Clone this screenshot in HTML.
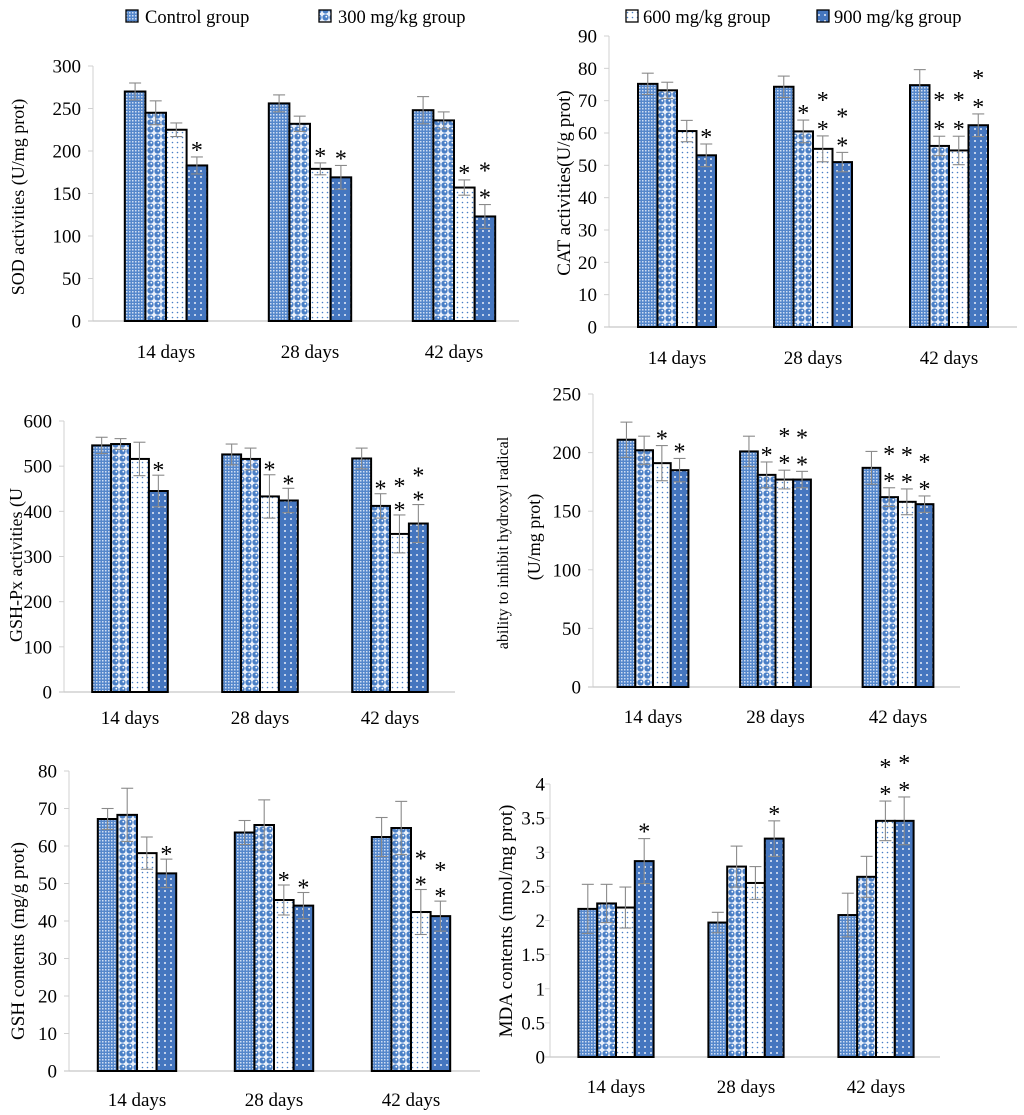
<!DOCTYPE html>
<html><head><meta charset="utf-8"><style>
html,body{margin:0;padding:0;background:#fff;}
svg{display:block;font-family:"Liberation Serif",serif;}
</style></head><body>
<svg id="fig" width="1024" height="1115" viewBox="0 0 1024 1115" xmlns="http://www.w3.org/2000/svg">
<defs>
<pattern id="p0" width="3" height="3" patternUnits="userSpaceOnUse"><rect width="3" height="3" fill="#5587cb"/><rect width="1.5" height="1.5" fill="#d0def3"/></pattern>
<pattern id="p1" width="7" height="7" patternUnits="userSpaceOnUse"><rect width="7" height="7" fill="#eaf0fa"/><circle cx="3.5" cy="3.5" r="3.1" fill="#4a7fc6"/><circle cx="4.3" cy="2.7" r="0.9" fill="#fff"/></pattern>
<pattern id="p2" width="5" height="5" patternUnits="userSpaceOnUse"><rect width="5" height="5" fill="#fff"/><circle cx="2.5" cy="2.5" r="0.8" fill="#4a7fc6"/></pattern>
<pattern id="p3" width="6" height="6" patternUnits="userSpaceOnUse"><rect width="6" height="6" fill="#4576bf"/><circle cx="3" cy="3" r="1" fill="#e8eef8"/></pattern>
</defs>
<g>
  <g><rect x="126" y="10" width="12" height="12" fill="url(#p0)" stroke="#000" stroke-width="1.3"/><text x="145" y="23" font-size="18.5">Control group</text></g>
  <g><rect x="319" y="10" width="12" height="12" fill="url(#p1)" stroke="#000" stroke-width="1.3"/><text x="338" y="23" font-size="18.5">300 mg/kg group</text></g>
  <g><rect x="626" y="10" width="12" height="12" fill="url(#p2)" stroke="#000" stroke-width="1.3"/><text x="643" y="23" font-size="18.5">600 mg/kg group</text></g>
  <g><rect x="817" y="10" width="12" height="12" fill="url(#p3)" stroke="#000" stroke-width="1.3"/><text x="834" y="23" font-size="18.5">900 mg/kg group</text></g>
</g>
</svg>
<script>
const categories = ["14 days","28 days","42 days"];
const groups = ["control","300","600","900"];
// values [category][group]
const sodValues = [[270,245,225,183],[256,232,179,169],[248,236,157,123]];
const sodErrors = [[10,14,8,10],[10,9,7,14],[16,10,9,14]];
const sodStars = [[0,0,0,1],[0,0,1,1],[0,0,1,2]];
const sodTicks = [0,50,100,150,200,250,300];
const catValues = [[75.2,73.2,60.6,53.1],[74.3,60.5,55.1,51.0],[74.8,56.0,54.6,62.4]];
const catErrors = [[3.3,2.5,3.3,3.5],[3.3,3.5,4,3],[4.8,3,4.4,3.5]];
const catStars = [[0,0,0,1],[0,1,2,2],[0,2,2,2]];
const catTicks = [0,10,20,30,40,50,60,70,80,90];
const gpxValues = [[546,549,516,445],[526,516,433,424],[517,412,350,373]];
const gpxErrors = [[18,12,37,35],[23,24,48,27],[23,27,42,42]];
const gpxStars = [[0,0,0,1],[0,0,1,1],[0,1,2,2]];
const gpxTicks = [0,100,200,300,400,500,600];
const ohValues = [[211,202,191,185],[201,181,177,177],[187,162,158,156]];
const ohErrors = [[15,12,15,10],[13,11,8,7],[14,8,11,7]];
const ohStars = [[0,0,1,1],[0,1,2,2],[0,2,2,2]];
const ohTicks = [0,50,100,150,200,250];
const gshValues = [[67.2,68.3,58.1,52.7],[63.6,65.6,45.6,44.1],[62.4,64.8,42.4,41.3]];
const gshErrors = [[2.8,7.1,4.3,3.8],[3.2,6.7,4,3.5],[5.2,7.1,6,4]];
const gshStars = [[0,0,0,1],[0,0,1,1],[0,0,2,2]];
const gshTicks = [0,10,20,30,40,50,60,70,80];
const mdaValues = [[2.17,2.25,2.19,2.87],[1.97,2.79,2.55,3.2],[2.08,2.64,3.46,3.46]];
const mdaErrors = [[0.36,0.28,0.3,0.33],[0.15,0.3,0.24,0.26],[0.32,0.3,0.29,0.35]];
const mdaStars = [[0,0,0,1],[0,0,0,1],[0,0,2,2]];
const mdaTicks = ["0","0.5","1","1.5","2","2.5","3","3.5","4"];

const NS="http://www.w3.org/2000/svg";
const svg=document.getElementById('fig');
function mk(tag,attrs,parent){const e=document.createElementNS(NS,tag);for(const k in attrs)e.setAttribute(k,attrs[k]);parent.appendChild(e);return e;}

function drawChart(name,L,values,errors,stars,ticks){
  const g=mk('g',{},svg);
  
  
  const max=+ticks[ticks.length-1];
  const y=v=>L.y0-(v/max)*(L.y0-L.yTop);
  const xc=i=>L.c0+i*L.step;
  const ya=mk('line',{x1:L.ax,y1:L.yTop,x2:L.ax,y2:L.y0,stroke:'#d0d0d0','stroke-width':1},g);
  
  
  const xa=mk('line',{x1:L.ax-5,y1:L.y0,x2:L.xEnd,y2:L.y0,stroke:'#c8c8c8','stroke-width':1.2},g);
  
  
  ticks.forEach(t=>{
    const yy=y(+t);
    mk('line',{x1:L.ax-5,y1:yy,x2:L.ax,y2:yy,stroke:'#d0d0d0','stroke-width':1},g);
    const tx=mk('text',{x:L.ax-L.tlOff,y:yy+6.5,'font-size':19,'text-anchor':'end'},g);
    tx.textContent=t;
    
    
  });
  categories.forEach((c,i)=>{
    const tx=mk('text',{x:xc(i),y:L.labY,'font-size':19,'text-anchor':'middle'},g);
    tx.textContent=c;
    
    
    const left=xc(i)-2*L.bw;
    values[i].forEach((v,k)=>{
      const x=left+k*L.bw, top=y(v);
      const r=mk('rect',{x:x,y:top,width:L.bw,height:L.y0-top,fill:'url(#p'+k+')',stroke:'#000','stroke-width':2},g);
      
      
      const cx=x+L.bw/2, eT=y(v+errors[i][k]), eB=y(v-errors[i][k]);
      const eg=mk('g',{stroke:'#8a8a8a','stroke-width':1.1},g);
      
      
      mk('line',{x1:cx,y1:eT,x2:cx,y2:eB},eg);
      mk('line',{x1:cx-6,y1:eT,x2:cx+6,y2:eT},eg);
      mk('line',{x1:cx-6,y1:eB,x2:cx+6,y2:eB},eg);
      for(let s=0;s<stars[i][k];s++){
        const sy=eT-L.sOff-s*L.sGap;
        const st=mk('text',{x:cx,y:sy+13,'font-size':24,'text-anchor':'middle'},g);
        st.textContent='*';
        
        
      }
    });
  });
  const tg=mk('g',{},g);
  L.titles.forEach(tt=>{
    const tx=mk('text',{x:0,y:0,'font-size':tt.fs,'text-anchor':'middle',transform:'translate('+tt.x+','+tt.y+') rotate(-90)'},tg);
    tx.textContent=tt.t;
    
    
  });
}

drawChart('sod',{ax:93,y0:321,yTop:66,c0:166,step:144,bw:20.6,xEnd:519,labY:358,tlOff:12,sOff:12,sGap:27,
  titles:[{t:'SOD activities  (U/mg prot)',x:24,y:197,fs:18}]},sodValues,sodErrors,sodStars,sodTicks);
drawChart('cat',{ax:609,y0:327,yTop:36,c0:677,step:136,bw:19.5,xEnd:1017,labY:364,tlOff:12,sOff:12,sGap:29,
  titles:[{t:'CAT activities(U/g prot)',x:570,y:183,fs:19}]},catValues,catErrors,catStars,catTicks);
drawChart('gsh-px',{ax:64,y0:692,yTop:421,c0:130,step:130,bw:18.9,xEnd:455,labY:724,tlOff:12,sOff:10,sGap:24,
  titles:[{t:'GSH-Px activities (U',x:22,y:565,fs:18}]},gpxValues,gpxErrors,gpxStars,gpxTicks);
drawChart('hydroxyl',{ax:593,y0:687,yTop:394,c0:653,step:122.5,bw:17.7,xEnd:960,labY:723,tlOff:12,sOff:12,sGap:27,
  titles:[{t:'ability to inhibit hydroxyl radical',x:508,y:543,fs:16},{t:'(U/mg prot)',x:540,y:537,fs:18}]},ohValues,ohErrors,ohStars,ohTicks);
drawChart('gsh',{ax:69,y0:1071,yTop:771,c0:137,step:137,bw:19.6,xEnd:480,labY:1106,tlOff:12,sOff:10,sGap:26,
  titles:[{t:'GSH contents (mg/g prot)',x:24,y:941,fs:19}]},gshValues,gshErrors,gshStars,gshTicks);
drawChart('mda',{ax:550,y0:1057,yTop:784,c0:616,step:130,bw:18.8,xEnd:940,labY:1093,tlOff:5,sOff:12,sGap:27,
  titles:[{t:'MDA contents (nmol/mg prot)',x:512,y:921,fs:19}]},mdaValues,mdaErrors,mdaStars,mdaTicks);
</script>
</body></html>
